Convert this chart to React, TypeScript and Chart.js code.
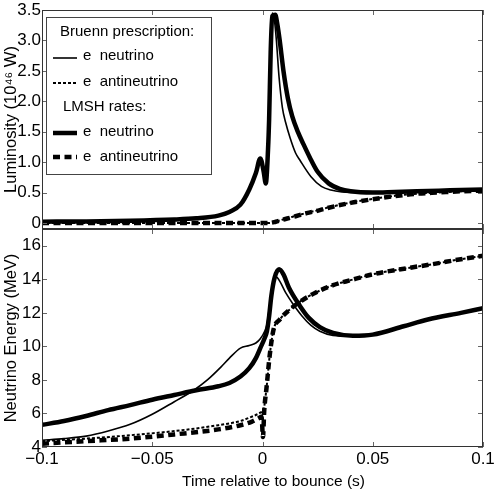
import { useEffect, useRef } from "react";
import { Chart, registerables } from "chart.js";

Chart.register(...registerables);

// ---------- axis ticks ----------
const xTicks = [-0.1, -0.05, 0, 0.05, 0.1];
const lumTicks = [0, 0.5, 1, 1.5, 2, 2.5, 3, 3.5];
const energyTicks = [4, 6, 8, 10, 12, 14, 16];

// ---------- text ----------
const legendHeaders = ["Bruenn prescription:", "LMSH rates:"];
const seriesNames = ["e  neutrino", "e  antineutrino", "e  neutrino", "e  antineutrino"];
const xTitle = "Time relative to bounce (s)";
const lumTitle = "Luminosity (10\u2074\u2076 W)";
const energyTitle = "Neutrino Energy (MeV)";

// ---------- top panel: luminosity (10^46 W) ----------
const lumBruennNuT = [-0.1, -0.08, -0.06, -0.04, -0.03, -0.02, -0.015, -0.01, -0.006, -0.003, -0.001, 0.0005, 0.0015, 0.0025, 0.003, 0.0037, 0.0044, 0.0055, 0.0063, 0.0075, 0.009, 0.0105, 0.0125, 0.015, 0.017, 0.022, 0.0267, 0.031, 0.036, 0.042, 0.05, 0.06, 0.07, 0.08, 0.09, 0.1];
const lumBruennNu = [0.02, 0.025, 0.035, 0.055, 0.075, 0.12, 0.18, 0.3, 0.55, 0.82, 1.06, 0.85, 0.65, 1.2, 1.7, 2.8, 3.45, 3.3, 3.0, 2.4, 1.9, 1.65, 1.4, 1.15, 1.03, 0.76, 0.6, 0.54, 0.51, 0.5, 0.49, 0.5, 0.52, 0.53, 0.54, 0.55];

const lumLmshNuT = [-0.1, -0.08, -0.06, -0.04, -0.03, -0.02, -0.015, -0.01, -0.006, -0.003, -0.001, 0.0005, 0.0015, 0.0025, 0.003, 0.0037, 0.0044, 0.0058, 0.0068, 0.0078, 0.0095, 0.0115, 0.0135, 0.016, 0.0185, 0.0214, 0.025, 0.03, 0.035, 0.04, 0.05, 0.06, 0.07, 0.08, 0.09, 0.1];
const lumLmshNu = [0.02, 0.025, 0.035, 0.055, 0.075, 0.12, 0.18, 0.3, 0.55, 0.82, 1.06, 0.85, 0.65, 1.2, 1.7, 2.8, 3.4, 3.42, 3.25, 3.0, 2.5, 2.05, 1.75, 1.5, 1.3, 1.08, 0.84, 0.65, 0.56, 0.52, 0.5, 0.51, 0.52, 0.53, 0.54, 0.55];

const lumAntiT = [-0.1, -0.05, -0.02, 0, 0.003, 0.006, 0.01, 0.015, 0.02, 0.026, 0.03, 0.04, 0.05, 0.06, 0.07, 0.08, 0.09, 0.1];
const lumBruennAnti = [0, 0, 0, 0, 0, 0.02, 0.065, 0.115, 0.165, 0.215, 0.255, 0.335, 0.395, 0.445, 0.48, 0.5, 0.52, 0.53];
const lumLmshAnti = [0, 0, 0, 0, 0, 0.02, 0.06, 0.11, 0.16, 0.21, 0.25, 0.33, 0.39, 0.44, 0.48, 0.5, 0.52, 0.53];

// ---------- bottom panel: neutrino energy (MeV) ----------
const energyBruennNuT = [-0.1, -0.09, -0.08, -0.07, -0.06, -0.05, -0.04, -0.031, -0.025, -0.019, -0.015, -0.01, -0.006, -0.003, -0.001, 0.001, 0.002, 0.003, 0.0045, 0.0063, 0.008, 0.0105, 0.014, 0.018, 0.022, 0.026, 0.032, 0.04, 0.05, 0.064, 0.075, 0.09, 0.1];
const energyBruennNu = [4.4, 4.5, 4.65, 4.95, 5.35, 5.95, 6.7, 7.4, 8.0, 8.75, 9.3, 9.9, 10.05, 10.2, 10.45, 10.9, 11.3, 12.2, 13.6, 14.13, 13.85, 13.2, 12.5, 11.8, 11.25, 10.9, 10.65, 10.6, 10.7, 11.2, 11.6, 12.0, 12.27];

const energyLmshNuT = [-0.1, -0.09, -0.08, -0.07, -0.06, -0.05, -0.04, -0.03, -0.02, -0.015, -0.01, -0.006, -0.003, -0.001, 0.001, 0.002, 0.003, 0.004, 0.0055, 0.0075, 0.0095, 0.012, 0.0169, 0.021, 0.026, 0.032, 0.041, 0.05, 0.064, 0.075, 0.09, 0.1];
const energyLmshNu = [5.32, 5.55, 5.85, 6.2, 6.5, 6.82, 7.1, 7.38, 7.62, 7.82, 8.2, 8.7, 9.3, 9.9, 10.5, 10.9, 11.8, 13.0, 14.1, 14.6, 14.3, 13.5, 12.43, 11.7, 11.15, 10.8, 10.63, 10.7, 11.2, 11.6, 12.0, 12.27];

const energyBruennAntiT = [-0.1, -0.08, -0.06, -0.04, -0.02, -0.01, -0.005, -0.001, 0.0006, 0.0018, 0.0033, 0.005, 0.0078, 0.0124, 0.018, 0.024, 0.032, 0.04, 0.05, 0.065, 0.077, 0.09, 0.1];
const energyBruennAnti = [4.35, 4.5, 4.7, 4.95, 5.3, 5.55, 5.8, 6.05, 6.3, 7.5, 9.5, 11.0, 11.6, 12.2, 12.75, 13.2, 13.65, 13.95, 14.3, 14.65, 14.9, 15.2, 15.4];

const energyLmshAntiT = [-0.1, -0.08, -0.06, -0.04, -0.02, -0.01, -0.005, -0.002, -0.0004, 0.0002, 0.0008, 0.0018, 0.0033, 0.005, 0.0078, 0.0124, 0.018, 0.024, 0.032, 0.04, 0.05, 0.065, 0.077, 0.09, 0.1];
const energyLmshAnti = [4.2, 4.35, 4.5, 4.75, 5.05, 5.3, 5.5, 5.7, 5.8, 4.6, 6.2, 7.5, 9.5, 11.0, 11.6, 12.2, 12.75, 13.2, 13.65, 13.95, 14.3, 14.65, 14.9, 15.2, 15.4];

// ---------- styles ----------
const FONT = "'Liberation Sans', Arial, Helvetica, sans-serif";
const lineStyles = [
  { width: 1.6, dash: [] as number[] },
  { width: 2, dash: [3, 2] },
  { width: 4.5, dash: [] as number[] },
  { width: 4.5, dash: [7, 4.5] },
];

const pts = (t: number[], v: number[]) => t.map((x, i) => ({ x, y: v[i] }));

const fmtX = (v: number) => (v === 0 ? "0" : v < 0 ? "\u2212" + String(-v) : String(v));

function makeDatasets(series: { x: number; y: number }[][]) {
  return series.map((data, i) => ({
    label: seriesNames[i],
    data,
    borderColor: "#000",
    backgroundColor: "#000",
    borderWidth: lineStyles[i].width,
    borderDash: lineStyles[i].dash,
    pointRadius: 0,
    fill: false,
    cubicInterpolationMode: "monotone" as const,
  }));
}

function framePlugin(yTicks: number[]) {
  return {
    id: "frame",
    afterDatasetsDraw(chart: any) {
      const { ctx, chartArea: a, scales } = chart;
      ctx.save();
      ctx.lineWidth = 1;
      ctx.strokeStyle = "#666";
      ctx.beginPath();
      for (const v of xTicks) {
        const px = Math.round(scales.x.getPixelForValue(v)) + 0.5;
        ctx.moveTo(px, a.top);
        ctx.lineTo(px, a.top + 5);
        ctx.moveTo(px, a.bottom);
        ctx.lineTo(px, a.bottom - 5);
      }
      for (const v of yTicks) {
        const py = Math.round(scales.y.getPixelForValue(v)) + 0.5;
        ctx.moveTo(a.left, py);
        ctx.lineTo(a.left + 5, py);
        ctx.moveTo(a.right, py);
        ctx.lineTo(a.right - 5, py);
      }
      ctx.stroke();
      ctx.strokeStyle = "#333";
      ctx.strokeRect(Math.round(a.left) + 0.5, Math.round(a.top) + 0.5, Math.round(a.right - a.left) - 1, Math.round(a.bottom - a.top) - 1);
      ctx.restore();
    },
  };
}

const legendPlugin = {
  id: "boxLegend",
  afterDraw(chart: any) {
    const { ctx } = chart;
    const bx = 46.5, by = 17.5, bw = 165, bh = 157;
    ctx.save();
    ctx.fillStyle = "#fff";
    ctx.fillRect(bx, by, bw, bh);
    ctx.strokeStyle = "#444";
    ctx.lineWidth = 1;
    ctx.strokeRect(bx, by, bw, bh);
    ctx.fillStyle = "#000";
    ctx.font = `15px ${FONT}`;
    ctx.textBaseline = "alphabetic";
    ctx.textAlign = "left";
    ctx.fillText(legendHeaders[0], 60, 36);
    ctx.fillText(legendHeaders[1], 63, 111);
    const rows = [
      { line: 58, text: 60 },
      { line: 83, text: 86 },
      { line: 133, text: 136 },
      { line: 157, text: 161 },
    ];
    rows.forEach((r, i) => {
      const ds = chart.data.datasets[i];
      ctx.beginPath();
      ctx.lineWidth = lineStyles[i].width;
      ctx.setLineDash(lineStyles[i].dash);
      ctx.strokeStyle = "#000";
      ctx.moveTo(53, r.line);
      ctx.lineTo(77, r.line);
      ctx.stroke();
      ctx.setLineDash([]);
      ctx.fillText(ds.label, 83, r.text);
    });
    ctx.restore();
  },
};

const xTitlePlugin = {
  id: "xTitle",
  afterDraw(chart: any) {
    const { ctx, chartArea: a } = chart;
    ctx.save();
    ctx.fillStyle = "#000";
    ctx.font = `15.5px ${FONT}`;
    ctx.textAlign = "center";
    ctx.textBaseline = "middle";
    ctx.fillText(xTitle, (a.left + a.right) / 2 + 11, a.bottom + 35);
    ctx.restore();
  },
};

function yAxis(min: number, max: number, ticks: number[], title: string) {
  return {
    type: "linear" as const,
    min,
    max,
    afterBuildTicks: (s: any) => {
      s.ticks = ticks.map((v) => ({ value: v }));
    },
    afterFit: (s: any) => {
      s.width = 42;
      s.paddingTop = 0;
      s.paddingBottom = 0;
    },
    ticks: { color: "#000", font: { family: FONT, size: 17 }, padding: 1 },
    grid: { display: false, drawTicks: false },
    border: { display: false },
    title: {
      display: true,
      text: title,
      color: "#000",
      font: { family: FONT, size: 16.5 },
      padding: { top: 2, bottom: 0 },
    },
  };
}

export default function App() {
  const topRef = useRef<HTMLCanvasElement>(null);
  const botRef = useRef<HTMLCanvasElement>(null);

  useEffect(() => {
    document.body.style.margin = "0";

    const top = new Chart(topRef.current as HTMLCanvasElement, {
      type: "line",
      data: {
        datasets: makeDatasets([
          pts(lumBruennNuT, lumBruennNu),
          pts(lumAntiT, lumBruennAnti),
          pts(lumLmshNuT, lumLmshNu),
          pts(lumAntiT, lumLmshAnti),
        ]) as any,
      },
      options: {
        animation: false,
        responsive: true,
        maintainAspectRatio: false,
        layout: { padding: { left: 0, right: 15, top: 10, bottom: 3 } },
        plugins: { legend: { display: false }, tooltip: { enabled: false } },
        scales: {
          x: { type: "linear", min: -0.1, max: 0.1, display: false },
          y: yAxis(-0.1, 3.5, lumTicks, lumTitle) as any,
        },
      },
      plugins: [framePlugin(lumTicks), legendPlugin],
    });

    const bottom = new Chart(botRef.current as HTMLCanvasElement, {
      type: "line",
      data: {
        datasets: makeDatasets([
          pts(energyBruennNuT, energyBruennNu),
          pts(energyBruennAntiT, energyBruennAnti),
          pts(energyLmshNuT, energyLmshNu),
          pts(energyLmshAntiT, energyLmshAnti),
        ]) as any,
      },
      options: {
        animation: false,
        responsive: true,
        maintainAspectRatio: false,
        layout: { padding: { left: 0, right: 15, top: 3, bottom: 0 } },
        plugins: { legend: { display: false }, tooltip: { enabled: false } },
        scales: {
          x: {
            type: "linear",
            min: -0.1,
            max: 0.1,
            afterBuildTicks: (s: any) => {
              s.ticks = xTicks.map((v) => ({ value: v }));
            },
            afterFit: (s: any) => {
              s.height = 51;
              s.paddingLeft = 0;
              s.paddingRight = 0;
            },
            ticks: {
              color: "#000",
              font: { family: FONT, size: 17 },
              padding: 2,
              autoSkip: false,
              maxRotation: 0,
              callback: (v: any) => fmtX(Number(v)),
            },
            grid: { display: false, drawTicks: false },
            border: { display: false },
            title: { display: false },
          },
          y: yAxis(4, 17, energyTicks, energyTitle) as any,
        },
      },
      plugins: [framePlugin(energyTicks), xTitlePlugin],
    });

    return () => {
      top.destroy();
      bottom.destroy();
    };
  }, []);

  return (
    <div style={{ position: "relative", width: 498, height: 498, background: "#fff", overflow: "hidden" }}>
      <div style={{ position: "absolute", left: 0, top: 0, width: 498, height: 232 }}>
        <canvas ref={topRef} />
      </div>
      <div style={{ position: "absolute", left: 0, top: 226, width: 498, height: 272 }}>
        <canvas ref={botRef} />
      </div>
    </div>
  );
}
